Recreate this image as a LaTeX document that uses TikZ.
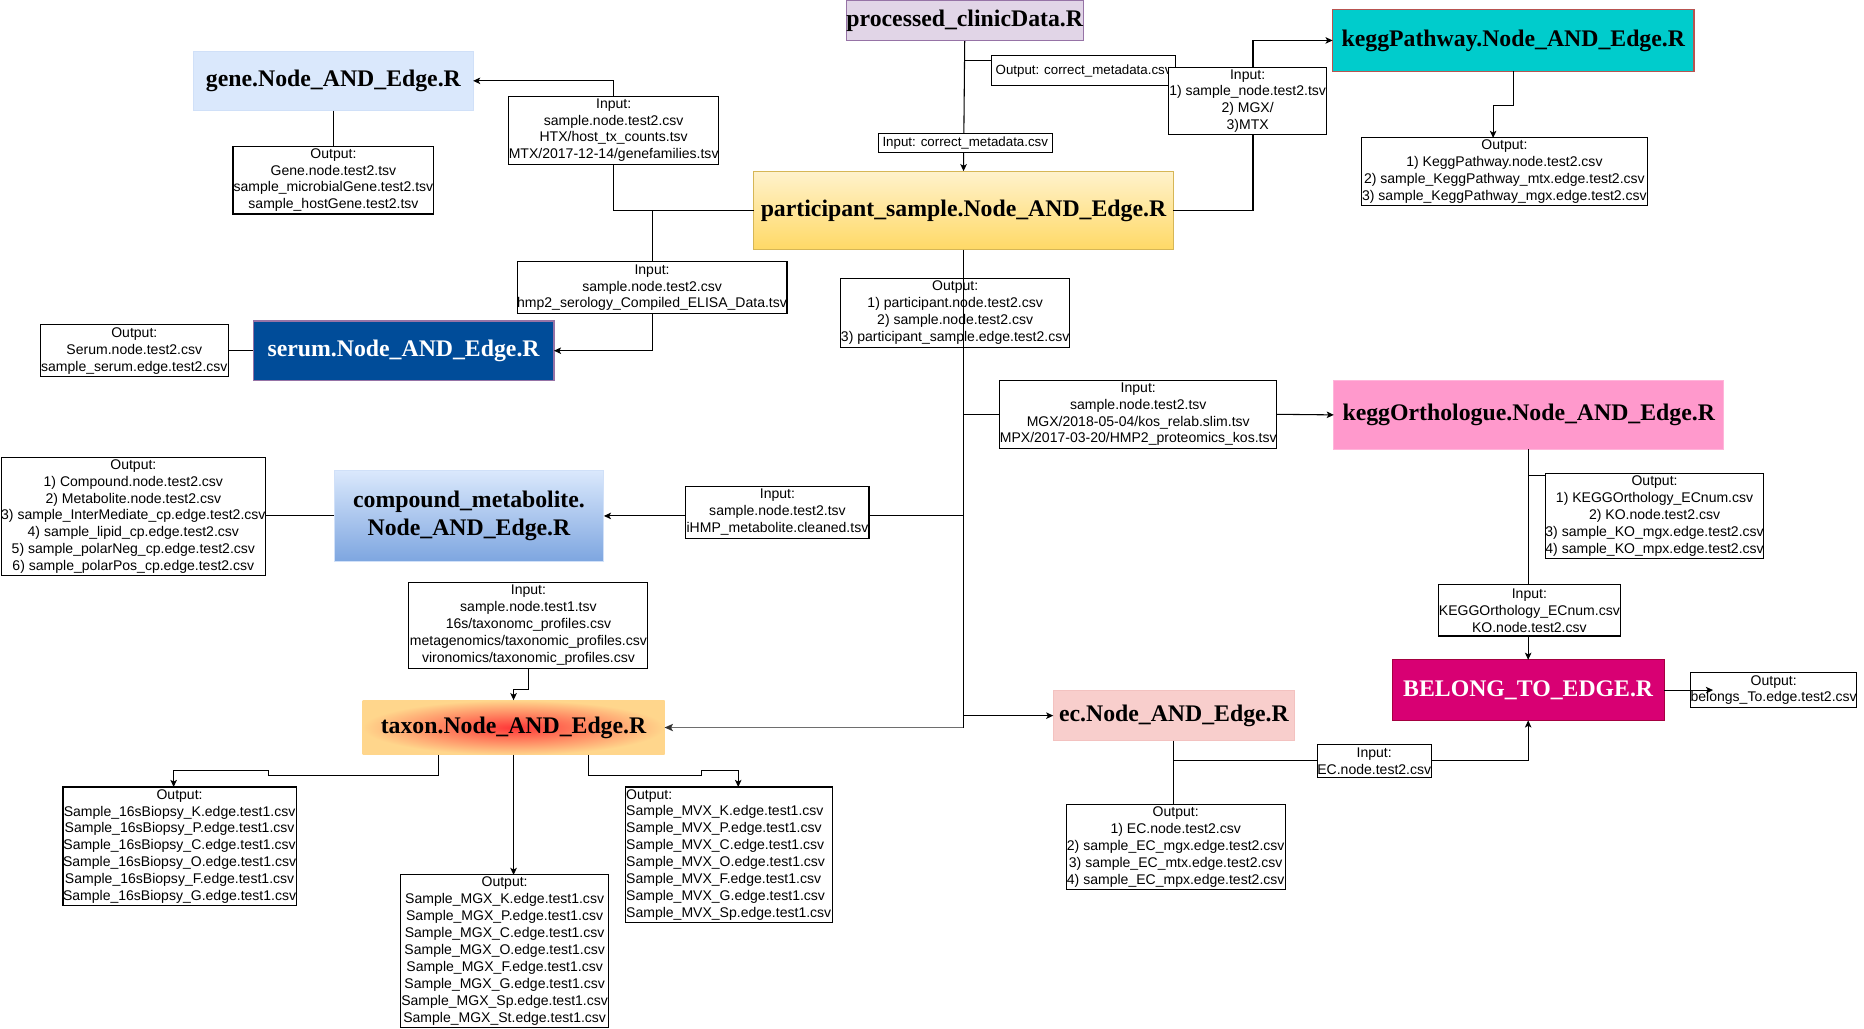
\documentclass[tikz,border=0pt]{standalone}
\usepackage{fontspec}
\setmainfont{Liberation Serif}
\newfontfamily\sansf{Liberation Sans}
\usetikzlibrary{arrows.meta}

\definecolor{clinFill}{HTML}{E1D5E7}
\definecolor{clinLine}{HTML}{9673A6}
\definecolor{partTop}{HTML}{FFF2CC}
\definecolor{partBot}{HTML}{FFD966}
\definecolor{partLine}{HTML}{D6B656}
\definecolor{keggFill}{HTML}{00CCCC}
\definecolor{keggLine}{HTML}{B85450}
\definecolor{geneFill}{HTML}{DAE8FC}
\definecolor{geneLine}{HTML}{D0E0F8}
\definecolor{serumFill}{HTML}{004C99}
\definecolor{serumLine}{HTML}{9673A6}
\definecolor{compTop}{HTML}{DAE8FC}
\definecolor{compBot}{HTML}{7EA6E0}
\definecolor{taxInner}{HTML}{FF3838}
\definecolor{taxOuter}{HTML}{FFD68C}
\definecolor{ecFill}{HTML}{F8CECC}
\definecolor{ecLine}{HTML}{F3C2C0}
\definecolor{belFill}{HTML}{D80073}
\definecolor{belLine}{HTML}{A50040}
\definecolor{koFill}{HTML}{FF99CC}
\definecolor{koLine}{HTML}{FFB5DA}
\definecolor{taxLink}{HTML}{6E6E6E}

\newcommand\smallfont{\sansf\fontsize{11.8}{14.2}\selectfont}
\newcommand\tightfont{\sansf\fontsize{11.2}{14.2}\selectfont}
\newcommand\titlefont{\bfseries\fontsize{20}{24}\selectfont}

\pgfdeclarelayer{background}
\pgfsetlayers{background,main}

\begin{document}
\begin{tikzpicture}[x=1pt,y=-1pt,
  at box/.style n args={4}{at={(#1,#2)}, anchor=north west,
      minimum width={#3-#1}, minimum height={#4-#2}},
  io/.style={draw=black, line width=0.9pt, fill=white, inner sep=0pt,
      outer sep=0pt, align=center, font=\smallfont},
  title/.style={line width=0.9pt, inner sep=0pt, outer sep=0pt,
      align=center, font=\titlefont},
  link/.style={draw=black, line width=0.9pt},
  arr/.style={link, -{Stealth[length=6pt,width=5.5pt,inset=1.5pt]}},
]

\begin{pgfonlayer}{background}
  \fill[white] (0,0) rectangle (1568,865);
\end{pgfonlayer}
\useasboundingbox (0,0) rectangle (1568,865);

% ---------- script boxes ----------
\node[title, at box={712}{0.5}{909}{34}, fill=clinFill, draw=clinLine] (clin) {processed\_clinicData.R};
\node[title, at box={634}{144}{987}{210}, top color=partTop, bottom color=partBot, draw=partLine] (part) {participant\_sample.Node\_AND\_Edge.R};
\node[title, at box={1121}{8}{1425}{60}, fill=keggFill, draw=keggLine] (kegg) {keggPathway.Node\_AND\_Edge.R};
\node[title, at box={163}{43}{398}{93}, fill=geneFill, draw=geneLine] (gene) {gene.Node\_AND\_Edge.R};
\node[title, at box={213}{270}{466}{320}, fill=serumFill, draw=serumLine, text=white] (serum) {serum.Node\_AND\_Edge.R};
\node[title, at box={281}{396}{508}{472}, top color=compTop, bottom color=compBot, draw=geneLine] (comp) {compound\_metabolite.\\Node\_AND\_Edge.R};
\node[title, at box={305}{589}{559}{635}, inner color=taxInner, outer color=taxOuter] (taxon) {taxon.Node\_AND\_Edge.R};
\node[title, at box={886}{581}{1089}{623}, fill=ecFill, draw=ecLine] (ec) {ec.Node\_AND\_Edge.R};
\node[title, at box={1171}{555}{1400}{606}, fill=belFill, draw=belLine, text=white] (belong) {BELONG\_TO\_EDGE.R};
\node[title, at box={1122}{320}{1450}{378}, fill=koFill, draw=koLine] (keggO) {keggOrthologue.Node\_AND\_Edge.R};

% ---------- file boxes ----------
\node[io, at box={834}{47}{989}{72}, font=\tightfont] (outmeta) {Output: correct\_metadata.csv};
\node[io, at box={739}{112}{885}{128}, font=\tightfont] (inmeta) {Input: correct\_metadata.csv};
\node[io, at box={983}{57}{1116}{113}] (keggin) {Input:\\1) sample\_node.test2.tsv\\2) MGX/\\3)MTX};
\node[io, at box={1145}{116}{1386}{173}] (keggout) {Output:\\1) KeggPathway.node.test2.csv\\2) sample\_KeggPathway\_mtx.edge.test2.csv\\3) sample\_KeggPathway\_mgx.edge.test2.csv};
\node[io, at box={428}{81}{604}{138}] (genein) {Input:\\sample.node.test2.csv\\HTX/host\_tx\_counts.tsv\\MTX/2017-12-14/genefamilies.tsv};
\node[io, at box={196}{123}{365}{180}] (geneout) {Output:\\Gene.node.test2.tsv\\sample\_microbialGene.test2.tsv\\sample\_hostGene.test2.tsv};
\node[io, at box={435}{220}{662}{264}] (serumin) {Input:\\sample.node.test2.csv\\hmp2\_serology\_Compiled\_ELISA\_Data.tsv};
\node[io, at box={34}{273}{192}{317}] (serumout) {Output:\\Serum.node.test2.csv\\sample\_serum.edge.test2.csv};
\node[io, at box={707}{234}{900}{292}] (partout) {Output:\\1) participant.node.test2.csv\\2) sample.node.test2.csv\\3) participant\_sample.edge.test2.csv};
\node[io, at box={841}{320}{1074}{377}] (koin) {Input:\\sample.node.test2.tsv\\MGX/2018-05-04/kos\_relab.slim.tsv\\MPX/2017-03-20/HMP2\_proteomics\_kos.tsv};
\node[io, at box={577}{409}{731}{453}] (compin) {Input:\\sample.node.test2.tsv\\iHMP\_metabolite.cleaned.tsv};
\node[io, at box={1}{385}{223}{484}] (compout) {Output:\\1) Compound.node.test2.csv\\2) Metabolite.node.test2.csv\\3) sample\_InterMediate\_cp.edge.test2.csv\\4) sample\_lipid\_cp.edge.test2.csv\\5) sample\_polarNeg\_cp.edge.test2.csv\\6) sample\_polarPos\_cp.edge.test2.csv};
\node[io, at box={344}{490}{545}{562}] (taxin) {Input:\\sample.node.test1.tsv\\16s/taxonomc\_profiles.csv\\metagenomics/taxonomic\_profiles.csv\\vironomics/taxonomic\_profiles.csv};
\node[io, at box={53}{662}{249}{762}] (out16s) {Output:\\Sample\_16sBiopsy\_K.edge.test1.csv\\Sample\_16sBiopsy\_P.edge.test1.csv\\Sample\_16sBiopsy\_C.edge.test1.csv\\Sample\_16sBiopsy\_O.edge.test1.csv\\Sample\_16sBiopsy\_F.edge.test1.csv\\Sample\_16sBiopsy\_G.edge.test1.csv};
\node[io, at box={337}{736}{512}{864}] (outmgx) {Output:\\Sample\_MGX\_K.edge.test1.csv\\Sample\_MGX\_P.edge.test1.csv\\Sample\_MGX\_C.edge.test1.csv\\Sample\_MGX\_O.edge.test1.csv\\Sample\_MGX\_F.edge.test1.csv\\Sample\_MGX\_G.edge.test1.csv\\Sample\_MGX\_Sp.edge.test1.csv\\Sample\_MGX\_St.edge.test1.csv};
\node[io, at box={526}{662}{700}{776}, align=left] (outmvx) {Output:\\Sample\_MVX\_K.edge.test1.csv\\Sample\_MVX\_P.edge.test1.csv\\Sample\_MVX\_C.edge.test1.csv\\Sample\_MVX\_O.edge.test1.csv\\Sample\_MVX\_F.edge.test1.csv\\Sample\_MVX\_G.edge.test1.csv\\Sample\_MVX\_Sp.edge.test1.csv};
\node[io, at box={897}{677}{1081}{748}] (ecout) {Output:\\1) EC.node.test2.csv\\2) sample\_EC\_mgx.edge.test2.csv\\3) sample\_EC\_mtx.edge.test2.csv\\4) sample\_EC\_mpx.edge.test2.csv};
\node[io, at box={1108}{626}{1204}{654}] (ecin) {Input:\\EC.node.test2.csv};
\node[io, at box={1300}{398}{1483}{470}] (koout) {Output:\\1) KEGGOrthology\_ECnum.csv\\2) KO.node.test2.csv\\3) sample\_KO\_mgx.edge.test2.csv\\4) sample\_KO\_mpx.edge.test2.csv};
\node[io, at box={1210}{492}{1363}{535}] (ko2in) {Input:\\KEGGOrthology\_ECnum.csv\\KO.node.test2.csv};
\node[io, at box={1422}{566}{1562}{595}] (belongout) {Output:\\belongs\_To.edge.test2.csv};

% ---------- connectors ----------
\begin{pgfonlayer}{background}
  \draw[arr] (clin.south) -- (part.north);
\end{pgfonlayer}
\coordinate (jmeta) at ([yshift=-17pt]clin.south);
\draw[link] (jmeta) -- (jmeta -| outmeta.west);

% participant -> keggPathway
\coordinate (kx) at ([xshift=4.5pt]keggin.south);
\draw[link] (part.east) -| (kx);
\draw[arr] (kx |- keggin.north) |- (kegg.west);
\draw[arr] (kegg.south) -- ++(0,28.5) -| ([xshift=-9.5pt]keggout.north);

% participant -> gene and serum
\draw[link] (part.west) -| (genein.south);
\draw[arr] (genein.north) |- (gene.east);
\draw[link] (gene.south) -- (geneout.north);
\coordinate (js) at (part.west -| serumin.north);
\draw[link] (js) -- (serumin.north);
\draw[arr] (serumin.south) |- (serum.east);
\draw[link] (serum.west) -- (serumout.east);

% main trunk below participant
\coordinate (tbot) at (part.south |- taxon.east);
\draw[draw=taxLink, line width=1.6pt,
      -{Stealth[length=7pt,width=6pt,inset=1.5pt,fill=black!80,color=black!80]}]
      (tbot) -- (taxon.east);
\draw[link] (part.south) -- (tbot);
\draw[link] (part.south |- koin.west) -- (koin.west);
\draw[arr] (koin.east) -- (keggO.west);
\draw[link] (part.south |- comp.east) -- (compin.east |- comp.east);
\draw[arr] (compin.west |- comp.east) -- (comp.east);
\draw[link] (comp.west) -- (compout.east |- comp.west);
\draw[arr] (part.south |- ec.west) -- (ec.west);

% taxon inputs and outputs
\draw[arr] (taxin.south) -- ++(0,18) -| (taxon.north);
\draw[arr] ([xshift=-63pt]taxon.south) -- ++(0,17) -- ++(-143,0) -- ++(0,-4) -| ([xshift=-5pt]out16s.north);
\draw[arr] (taxon.south) -- (taxon.south |- outmgx.north);
\draw[arr] ([xshift=63pt]taxon.south) -- ++(0,17) -- ++(95,0) -- ++(0,-4) -| ([xshift=8pt]outmvx.north);

% ec
\draw[link] (ec.south) -- (ec.south |- ecout.north);
\draw[link] (ec.south |- ecin.west) -- (ecin.west);
\draw[arr] (ecin.east) -| (belong.south);

% keggOrthologue
\coordinate (kj) at ([yshift=-2pt]koout.north west);
\draw[link] (keggO.south) -- (keggO.south |- ko2in.north);
\draw[link] (keggO.south |- kj) -- (kj);
\draw[arr] (ko2in.south -| belong.north) -- (belong.north);
\draw[arr] (belong.east) -- ([xshift=19pt]belongout.west |- belong.east);

\end{tikzpicture}
\end{document}
